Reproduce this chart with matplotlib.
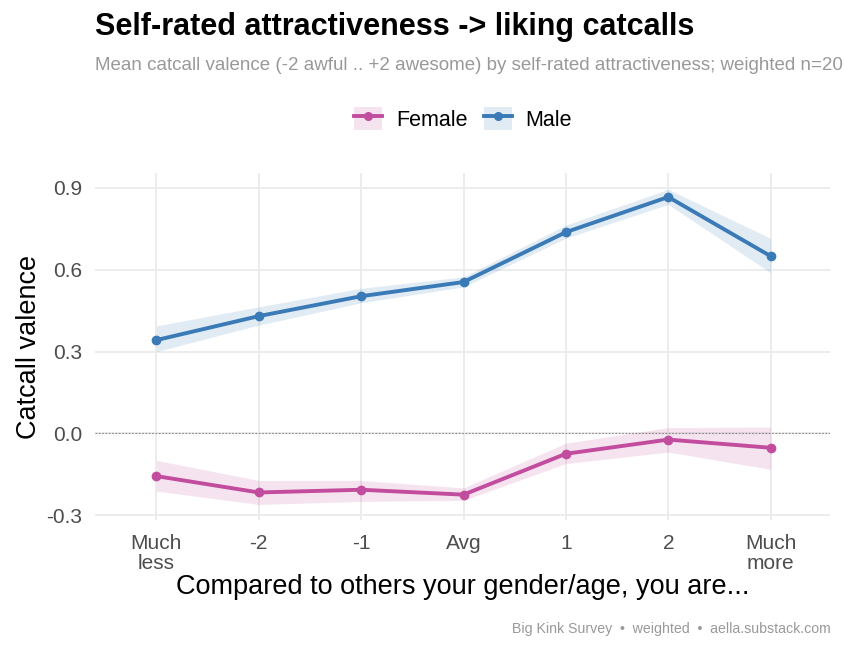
import numpy as np
import matplotlib.pyplot as plt
from matplotlib.lines import Line2D
from matplotlib.patches import Patch

plt.rcParams['font.family'] = ['Liberation Sans', 'DejaVu Sans']

# categorías del eje x
levels = ['Much\nless', '-2', '-1', 'Avg', '1', '2', 'Much\nmore']

# medias y bandas
female_mean = [-0.157, -0.217, -0.207, -0.225, -0.075, -0.023, -0.053]
female_lo = [-0.212, -0.261, -0.250, -0.246, -0.111, -0.069, -0.132]
female_hi = [-0.099, -0.173, -0.173, -0.200, -0.036, 0.021, 0.023]

male_mean = [0.342, 0.430, 0.503, 0.555, 0.738, 0.867, 0.650]
male_lo = [0.300, 0.397, 0.479, 0.537, 0.716, 0.840, 0.589]
male_hi = [0.394, 0.464, 0.532, 0.574, 0.764, 0.895, 0.715]

yticks = [-0.3, 0.0, 0.3, 0.6, 0.9]

c_fem = '#C24D9E'
c_male = '#3A7AB6'

fig = plt.figure(figsize=(8.45, 6.5), dpi=100)
ax = fig.add_axes([95/845, 1 - 520/650, 735/845, 347/650])

x = np.arange(len(levels))
for mean, lo, hi, col in [(female_mean, female_lo, female_hi, c_fem),
                          (male_mean, male_lo, male_hi, c_male)]:
    ax.fill_between(x, lo, hi, color=col, alpha=0.15, lw=0)
    ax.plot(x, mean, color=col, lw=2.8, marker='o', ms=6, zorder=3)

ax.axhline(0, color='#888888', lw=0.8, ls=(0, (1.5, 1.5)), zorder=1)

ax.set_xlim(-0.6, 6.58)
ax.set_ylim(-0.318, 0.955)
ax.set_xticks(x)
ax.set_xticklabels(levels)
ax.set_yticks(yticks)
ax.set_yticklabels(['-0.3', '0.0', '0.3', '0.6', '0.9'])
ax.grid(True, color='#EBEBEB', lw=1.3)
ax.set_axisbelow(True)
for s in ax.spines.values():
    s.set_visible(False)
ax.tick_params(length=0, labelsize=15, labelcolor='#4D4D4D')
ax.tick_params(axis='x', pad=10)
ax.tick_params(axis='y', pad=9)
for lab in ax.get_xticklabels():
    lab.set_linespacing(1.05)

ax.set_ylabel('Catcall valence', fontsize=19.5, labelpad=3.5)
ax.set_xlabel('Compared to others your gender/age, you are...', fontsize=19.5, labelpad=1)

fig.text(95/845, 1 - 27/650, 'Self-rated attractiveness -> liking catcalls',
         fontsize=22, fontweight='bold', va='center', ha='left')
fig.text(95/845, 1 - 65/650,
         'Mean catcall valence (-2 awful .. +2 awesome) by self-rated attractiveness; weighted n=20',
         fontsize=13.5, color='#999999', va='center', ha='left')
fig.text(831/845, 1 - 629/650,
         'Big Kink Survey  \u2022  weighted  \u2022  aella.substack.com',
         fontsize=10.2, color='#999999', va='center', ha='right')

handles = [(Patch(color=c_fem, alpha=0.15, lw=0), Line2D([], [], color=c_fem, lw=2.8, marker='o', ms=5.5)),
           (Patch(color=c_male, alpha=0.15, lw=0), Line2D([], [], color=c_male, lw=2.8, marker='o', ms=5.5))]
fig.legend(handles, ['Female', 'Male'], loc='center', bbox_to_anchor=(463/845, 1 - 119/650),
           ncol=2, frameon=False, fontsize=15.5, handlelength=1.3, handleheight=1.3,
           handletextpad=0.65, columnspacing=0.75, borderaxespad=0)

fig.savefig('out.png', dpi=100)
